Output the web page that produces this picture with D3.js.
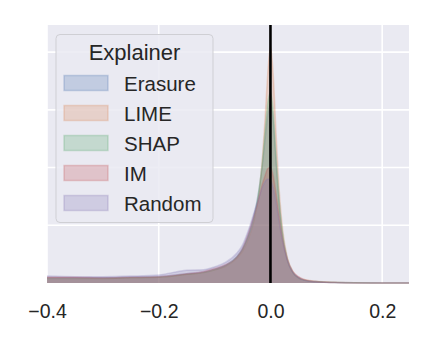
<!DOCTYPE html>
<html>
<head>
<meta charset="utf-8">
<script src="https://cdn.jsdelivr.net/npm/d3@7"></script>
<style>
  body { margin: 0; background: #fff; }
  svg { display: block; font-family: "Liberation Sans", Arial, sans-serif; }
</style>
</head>
<body>
<svg id="chart"></svg>
<script>
const xs = [-0.4, -0.35, -0.3, -0.25, -0.2, -0.15, -0.12, -0.1, -0.08, -0.06, -0.05, -0.04, -0.03, -0.02, -0.015, -0.01, -0.005,
            0, 0.005, 0.01, 0.015, 0.02, 0.03, 0.04, 0.05, 0.06, 0.08, 0.1, 0.12, 0.15, 0.2, 0.248];

const explainers = ["Erasure", "LIME", "SHAP", "IM", "Random"];
const colors = ["#4C72B0", "#DD8452", "#55A868", "#C44E52", "#8172B3"];

const erasure = [0.9, 0.9, 0.9, 1.0, 1.1, 1.6, 1.9, 2.4, 3.1, 4.6, 6.0, 8.2, 11.5, 16.5, 20, 24.5, 29,
                 31, 28, 21, 14.5, 9.5, 4.0, 1.8, 0.9, 0.5, 0.25, 0.15, 0.1, 0.04, 0.01, 0];
const lime    = [0.9, 0.9, 0.8, 0.9, 1.0, 1.5, 1.8, 2.3, 2.9, 4.3, 5.5, 7.5, 10.5, 16, 21, 28, 36,
                 41, 36, 26, 17, 11, 4.5, 2.0, 1.0, 0.6, 0.3, 0.2, 0.12, 0.05, 0.01, 0];
const shap    = [0.8, 0.8, 0.8, 0.9, 1.0, 1.5, 1.8, 2.3, 3.0, 4.5, 5.8, 8.0, 11, 16.5, 20.5, 26, 31,
                 33, 29.5, 22, 15, 9.8, 4.2, 1.9, 0.9, 0.5, 0.25, 0.15, 0.08, 0.03, 0.01, 0];
const im      = [1.0, 1.0, 0.9, 1.0, 1.1, 1.6, 2.0, 2.5, 3.2, 4.5, 6.0, 8.5, 11.5, 15, 17, 18.5, 19.8,
                 20, 18.5, 15.5, 12, 8.5, 4.2, 2.0, 1.1, 0.6, 0.25, 0.12, 0.06, 0.02, 0.01, 0];
const random  = [1.2, 1.1, 1.1, 1.2, 1.4, 2.2, 2.3, 2.8, 3.6, 5.2, 6.6, 9.0, 12, 15, 16.5, 17.5, 18,
                 17.8, 16.5, 14, 11, 8.0, 4.0, 1.9, 1.0, 0.5, 0.2, 0.1, 0.05, 0.02, 0.01, 0];
const series = [erasure, lime, shap, im, random];

const xTicks = [-0.4, -0.2, 0.0, 0.2];
const yGrid = [10, 20, 30, 40];

const width = 436, height = 346;
const svg = d3.select("#chart").attr("width", width).attr("height", height);

const x = d3.scaleLinear().domain([-0.4, 0.248]).range([47, 409]);
const y = d3.scaleLinear().domain([0, 44.7]).range([283, 25]);

// background
svg.append("rect")
    .attr("x", x.range()[0]).attr("y", y.range()[1])
    .attr("width", x.range()[1] - x.range()[0])
    .attr("height", y.range()[0] - y.range()[1])
    .attr("fill", "#EAEAF2");

// grid
svg.append("g").selectAll("line").data(yGrid).join("line")
    .attr("x1", x.range()[0]).attr("x2", x.range()[1])
    .attr("y1", d => y(d)).attr("y2", d => y(d))
    .attr("stroke", "#fff").attr("stroke-width", 1.6);
svg.append("g").selectAll("line").data(xTicks).join("line")
    .attr("x1", d => x(d)).attr("x2", d => x(d))
    .attr("y1", y.range()[0]).attr("y2", y.range()[1])
    .attr("stroke", "#fff").attr("stroke-width", 1.6);

// densities
const area = d3.area()
    .x((d, i) => x(xs[i]))
    .y0(y(0))
    .y1(d => y(d))
    .curve(d3.curveMonotoneX);
const line = d3.line()
    .x((d, i) => x(xs[i]))
    .y(d => y(d))
    .curve(d3.curveMonotoneX);

series.forEach((vals, k) => {
  svg.append("path").attr("d", area(vals))
      .attr("fill", colors[k]).attr("fill-opacity", 0.25);
  svg.append("path").attr("d", line(vals))
      .attr("fill", "none").attr("stroke", colors[k])
      .attr("stroke-opacity", 0.25).attr("stroke-width", 1.5);
});

// reference line at 0
svg.append("line")
    .attr("x1", x(0)).attr("x2", x(0))
    .attr("y1", y.range()[0]).attr("y2", y.range()[1])
    .attr("stroke", "#000").attr("stroke-width", 2.6);

// x tick labels
const xAxis = d3.axisBottom(x).tickValues(xTicks).tickSize(0).tickPadding(0)
    .tickFormat(d3.format(".1f"));
const gx = svg.append("g").attr("transform", "translate(0,304)").call(xAxis);
gx.select(".domain").remove();
gx.selectAll("text")
    .attr("fill", "#262626")
    .style("font-family", "'Liberation Sans', Arial, sans-serif")
    .style("font-size", "19.5px");

// legend
const leg = svg.append("g");
leg.append("rect")
    .attr("x", 56).attr("y", 34.5).attr("width", 157).attr("height", 188)
    .attr("rx", 4).attr("ry", 4)
    .attr("fill", "#EAEAF2").attr("fill-opacity", 0.85)
    .attr("stroke", "#cfcfd4").attr("stroke-width", 1);
leg.append("text")
    .attr("x", 134.5).attr("y", 60)
    .attr("text-anchor", "middle")
    .attr("fill", "#262626")
    .style("font-size", "22px")
    .text("Explainer");
explainers.forEach((name, i) => {
  const cy = 83 + i * 30;
  leg.append("rect")
      .attr("x", 64).attr("y", cy - 7.5).attr("width", 44).attr("height", 15)
      .attr("fill", colors[i]).attr("fill-opacity", 0.25)
      .attr("stroke", colors[i]).attr("stroke-opacity", 0.25).attr("stroke-width", 1.5);
  leg.append("text")
      .attr("x", 124).attr("y", cy + 7.5)
      .attr("fill", "#262626")
      .style("font-size", "20.5px")
      .text(name);
});
</script>
</body>
</html>
